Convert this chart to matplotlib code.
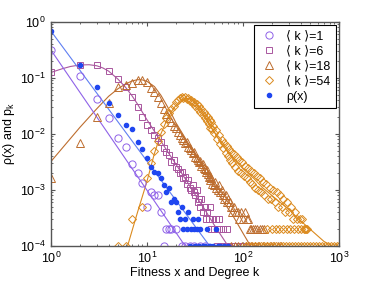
import numpy as np
import matplotlib
matplotlib.use("Agg")
import matplotlib.pyplot as plt

plt.rcParams['font.family'] = ['Liberation Sans', 'DejaVu Sans']
plt.rcParams['mathtext.fontset'] = 'custom'
plt.rcParams['mathtext.rm'] = 'Liberation Sans'
plt.rcParams['mathtext.it'] = 'Liberation Sans'

# ---------------------------------------------------------------------------
# data (p values are counts / 1e4)
# ---------------------------------------------------------------------------
# <k>=1 (circles)
k1_x = [1, 2, 3, 4, 5, 6, 7, 8, 9, 10, 11, 12, 13, 14, 15, 16, 17, 18, 20,
        23, 25, 28, 31, 36, 40]
k1_p = [0.316, 0.11, 0.042, 0.019, 0.0085, 0.0059, 0.0029, 0.0020, 0.00135,
        0.0005, 0.0009, 0.0008, 0.0008, 0.0004, 0.0001, 0.0002, 0.0002,
        0.0002, 0.0002, 0.0001, 0.0001, 0.0001, 0.0001, 0.0001, 0.0001]
k1_line_x = [1, 25]
k1_line_p = [0.316, 0.0001]

# <k>=6 (squares)
k6_x = [1, 2, 3, 4, 5, 6, 7, 8, 9, 10, 11, 12, 13, 14, 15, 16, 17, 18, 19,
        20, 21, 22, 23, 24, 25, 26, 27, 28, 29, 30, 31, 32, 33, 34, 35, 36,
        37, 38, 40, 41, 42, 44, 45, 47, 48, 50, 52, 54, 56, 57, 59, 62, 64,
        68, 71, 75, 80, 86, 93, 100, 108, 117, 128, 140]
k6_p = [0.128, 0.17, 0.17, 0.134, 0.096, 0.069, 0.046, 0.030, 0.020, 0.0145,
        0.0118, 0.0095, 0.0085, 0.0072, 0.0055, 0.0048, 0.0042, 0.0032,
        0.0034, 0.0026, 0.0024, 0.0020, 0.0021, 0.0016, 0.0017, 0.0013,
        0.0015, 0.0011, 0.0010, 0.0012, 0.0009, 0.0008, 0.0010, 0.0006,
        0.0007, 0.0005, 0.0007, 0.0004, 0.0005, 0.0003, 0.0004, 0.0003,
        0.0005, 0.0002, 0.0003, 0.0002, 0.0003, 0.0001, 0.0002, 0.0003,
        0.0001, 0.0002, 0.0001, 0.0002, 0.0001, 0.0001, 0.0001, 0.0001,
        0.0001, 0.0001, 0.0001, 0.0001, 0.0001, 0.0001]
k6_line_x = [1, 1.3, 1.6, 2, 2.5, 3, 3.5, 4, 5, 6, 7, 8, 10, 13, 16, 20, 25,
             32, 40, 50, 70]
k6_line_p = [0.125, 0.145, 0.16, 0.17, 0.172, 0.165, 0.15, 0.132, 0.095,
             0.068, 0.048, 0.034, 0.018, 0.009, 0.0052, 0.0029, 0.0016,
             0.00081, 0.00045, 0.00024, 0.0001]

# <k>=18 (triangles)
k18_x = [1, 2, 3, 4, 5, 6, 7, 8, 9, 10, 11, 12, 13, 14, 15, 16, 17, 18, 19,
         20, 21, 22, 23, 24, 25, 26, 27, 28, 29, 30, 31, 32, 33, 34, 35, 36,
         37, 38, 39, 40, 41, 42, 43, 44, 45, 46, 47, 48, 50, 51, 53, 55, 56,
         58, 60, 62, 64, 66, 68, 70, 73, 75, 78, 80, 84, 88, 92, 96, 100,
         105, 110, 114, 118, 122, 128, 135, 142, 150, 158, 166,
         76, 83, 90, 99, 108, 121, 133, 147, 162, 178, 195, 213, 232, 250]
k18_p = [0.0016, 0.0069, 0.020, 0.036, 0.068, 0.075, 0.081, 0.092, 0.090,
         0.085, 0.066, 0.056, 0.046, 0.036, 0.028, 0.023, 0.019, 0.016,
         0.014, 0.0125, 0.011, 0.0095, 0.0085, 0.0078, 0.0068, 0.0072,
         0.0058, 0.0055, 0.0052, 0.0046, 0.0048, 0.0039, 0.0037, 0.0034,
         0.0031, 0.0033, 0.0027, 0.0029, 0.0025, 0.0024, 0.0021, 0.0023,
         0.0019, 0.0017, 0.0018, 0.0015, 0.0016, 0.0013, 0.0012, 0.0014,
         0.0011, 0.0010, 0.0012, 0.0009, 0.0010, 0.0008, 0.0007, 0.0008,
         0.0006, 0.0007, 0.0006, 0.0005, 0.0004, 0.0005, 0.0004, 0.0004,
         0.0003, 0.0004, 0.0003, 0.0004, 0.0003, 0.0003, 0.0002, 0.0002,
         0.0002, 0.0002, 0.0002, 0.0002, 0.0002, 0.0002,
         0.0001, 0.0001, 0.0001, 0.0001, 0.0001, 0.0001, 0.0001, 0.0001,
         0.0001, 0.0001, 0.0001, 0.0001, 0.0001, 0.0001]
k18_line_x = [1, 2, 3, 4, 5, 6, 7, 8, 9, 10, 12, 14, 16, 18, 20, 25, 30, 40,
              50, 60, 80, 100, 120]
k18_line_p = [0.0032, 0.013, 0.028, 0.047, 0.064, 0.078, 0.088, 0.093,
              0.092, 0.087, 0.070, 0.049, 0.033, 0.023, 0.016, 0.0085,
              0.0050, 0.0022, 0.0012, 0.0007, 0.00033, 0.00017, 0.0001]

# <k>=54 (diamonds)
k54_x = [5, 6, 7, 9, 10, 11, 12, 13, 14, 15, 16, 17, 18, 19, 20, 21, 22, 23,
         24, 25, 26, 27, 28, 29, 30, 31, 32, 33, 34, 35, 36, 37, 38, 39, 40,
         41, 42, 43, 44, 45, 46, 47, 48, 49, 50, 52, 54, 56, 58, 60, 62, 64,
         66, 68, 70, 72, 74, 76, 78, 80, 83, 86, 89, 92, 95, 98, 102, 106,
         110, 114, 118, 122, 126, 130, 135, 140, 145, 150, 156, 162, 168,
         175, 182, 190, 198, 206, 215, 225, 235, 245, 255, 265, 278, 290,
         305, 320, 335, 350, 370, 390, 410, 430, 455,
         180, 200, 220, 240, 262, 285, 310, 340, 372, 400, 440, 470,
         108, 116, 125, 134, 144, 155, 167, 180, 193, 208, 224, 241, 259,
         279, 300, 323, 347, 373, 401, 432, 465, 500, 538, 579, 623, 670,
         721, 776, 835, 898, 966, 1000]
k54_p = [0.0001, 0.0001, 0.0003, 0.0005, 0.0016, 0.0030, 0.0049, 0.0075,
         0.011, 0.015, 0.019, 0.024, 0.028, 0.032, 0.037, 0.040, 0.043,
         0.046, 0.044, 0.045, 0.042, 0.043, 0.039, 0.040, 0.036, 0.037,
         0.032, 0.034, 0.028, 0.031, 0.025, 0.028, 0.022, 0.025, 0.019,
         0.022, 0.017, 0.020, 0.015, 0.018, 0.013, 0.016, 0.012, 0.014,
         0.0105, 0.0115, 0.0080, 0.0095, 0.0066, 0.0078, 0.0055, 0.0068,
         0.0045, 0.0060, 0.0040, 0.0053, 0.0034, 0.0048, 0.0030, 0.0043,
         0.0026, 0.0038, 0.0022, 0.0034, 0.0020, 0.0031, 0.0018, 0.0027,
         0.0016, 0.0025, 0.0014, 0.0022, 0.0013, 0.0020, 0.0011, 0.0018,
         0.0010, 0.0016, 0.0009, 0.0014, 0.0008, 0.0013, 0.0007, 0.0011,
         0.0007, 0.0010, 0.0006, 0.0009, 0.0005, 0.0008, 0.0005, 0.0007,
         0.0004, 0.0006, 0.0004, 0.0005, 0.0003, 0.0004, 0.0003, 0.0003,
         0.0003, 0.0002, 0.0002,
         0.0002, 0.0002, 0.0002, 0.0002, 0.0002, 0.0002, 0.0002, 0.0002,
         0.0002, 0.0002, 0.0002, 0.0002,
         0.0001, 0.0001, 0.0001, 0.0001, 0.0001, 0.0001, 0.0001, 0.0001,
         0.0001, 0.0001, 0.0001, 0.0001, 0.0001, 0.0001, 0.0001, 0.0001,
         0.0001, 0.0001, 0.0001, 0.0001, 0.0001, 0.0001, 0.0001, 0.0001,
         0.0001, 0.0001, 0.0001, 0.0001, 0.0001, 0.0001, 0.0001, 0.0001]
k54_line_x = [6.3, 8, 10, 12, 14, 16, 18, 20, 22, 24, 26, 28, 30, 35, 40, 50,
              60, 70, 80, 100, 130, 160, 200, 250, 300, 400, 500, 700, 850]
k54_line_p = [0.0001, 0.0004, 0.0014, 0.0045, 0.010, 0.017, 0.025, 0.032,
              0.038, 0.042, 0.043, 0.042, 0.039, 0.030, 0.021, 0.011, 0.0068,
              0.0047, 0.0036, 0.0024, 0.0016, 0.0011, 0.0008, 0.00058,
              0.00045, 0.00028, 0.0002, 0.00012, 0.0001]

# fitness distribution rho(x) (filled dots)
rho_x = [1, 2, 3, 4, 5, 6, 7, 8, 9, 10, 11, 12, 13, 14, 15, 16, 17, 18, 19,
         20, 21, 22, 23, 24, 25, 26, 27, 28, 29, 30, 31, 32, 33, 34, 35, 36,
         38, 40, 42, 44, 46, 49, 52, 55, 58, 63, 70]
rho_p = [0.69, 0.17, 0.069, 0.035, 0.022, 0.0145, 0.012, 0.0072, 0.0054,
         0.0037, 0.0026, 0.0021, 0.0020, 0.0016, 0.0012, 0.0009, 0.0011,
         0.0006, 0.0007, 0.0006, 0.0004, 0.0003, 0.0005, 0.0002, 0.0003,
         0.0002, 0.0004, 0.0001, 0.0002, 0.0003, 0.0002, 0.0001, 0.0002,
         0.0003, 0.0001, 0.0002, 0.0001, 0.0001, 0.0002, 0.0001, 0.0001,
         0.0001, 0.0002, 0.0001, 0.0001, 0.0001, 0.0001]
rho_line_x = [1, 45]
rho_line_p = [0.69, 0.0001]

legend_labels = ['\u27e8 k \u27e9=1', '\u27e8 k \u27e9=6', '\u27e8 k \u27e9=18',
                 '\u27e8 k \u27e9=54', '\u03c1(x)']

C_K1 = '#8f62e8'
C_K6 = '#a9569e'
C_K18 = '#bd6d2e'
C_K54 = '#db8a1e'
C_RHO = '#1f46f0'
C_RHO_LINE = '#5f7ff2'

fig = plt.figure(figsize=(3.74, 2.81), dpi=100)
ax = fig.add_axes([0.136, 0.125, 0.770, 0.797])

# theory lines first so markers sit on top
ax.plot(k54_line_x, k54_line_p, '-', color=C_K54, lw=0.8)
ax.plot(k18_line_x, k18_line_p, '-', color=C_K18, lw=0.8)
ax.plot(k6_line_x, k6_line_p, '-', color=C_K6, lw=0.8)
ax.plot(k1_line_x, k1_line_p, '-', color=C_K1, lw=0.8)
ax.plot(rho_line_x, rho_line_p, '-', color=C_RHO_LINE, lw=0.8)

mk = dict(ls='none', mfc='none', mew=0.7)
ax.plot(k1_x, k1_p, marker='o', ms=5.2, mec=C_K1, label=legend_labels[0], **mk)
ax.plot(k6_x, k6_p, marker='s', ms=4.6, mec=C_K6, label=legend_labels[1], **mk)
ax.plot(k18_x, k18_p, marker='^', ms=5.6, mec=C_K18, label=legend_labels[2], **mk)
ax.plot(k54_x, k54_p, marker='D', ms=4.2, mec=C_K54, label=legend_labels[3], **mk)
ax.plot(rho_x, rho_p, ls='none', marker='o', ms=3, color=C_RHO, mec=C_RHO,
        label=legend_labels[4])

ax.set_xscale('log')
ax.set_yscale('log')
ax.set_xlim(1, 1000)
ax.set_ylim(1e-4, 1)

for s in ax.spines.values():
    s.set_color('#555555')
    s.set_linewidth(1.0)
ax.tick_params(which='both', direction='in', top=True, right=True,
               colors='#555555', labelcolor='black', labelsize=9)
ax.tick_params(which='major', length=3)
ax.tick_params(which='minor', length=1.5)

ax.set_xlabel('Fitness x and Degree k', fontsize=9, labelpad=1)
ax.set_ylabel(r'$\rho$(x) and p$_\mathrm{k}$', fontsize=9, labelpad=2)

leg = ax.legend(loc='upper right', fontsize=9, frameon=True, fancybox=False,
                edgecolor='black', framealpha=1, borderaxespad=0.25,
                handlelength=1.6, handletextpad=0.6, labelspacing=0.25,
                borderpad=0.4, numpoints=1)
leg.get_frame().set_linewidth(0.8)

fig.savefig('out.png', dpi=100)
